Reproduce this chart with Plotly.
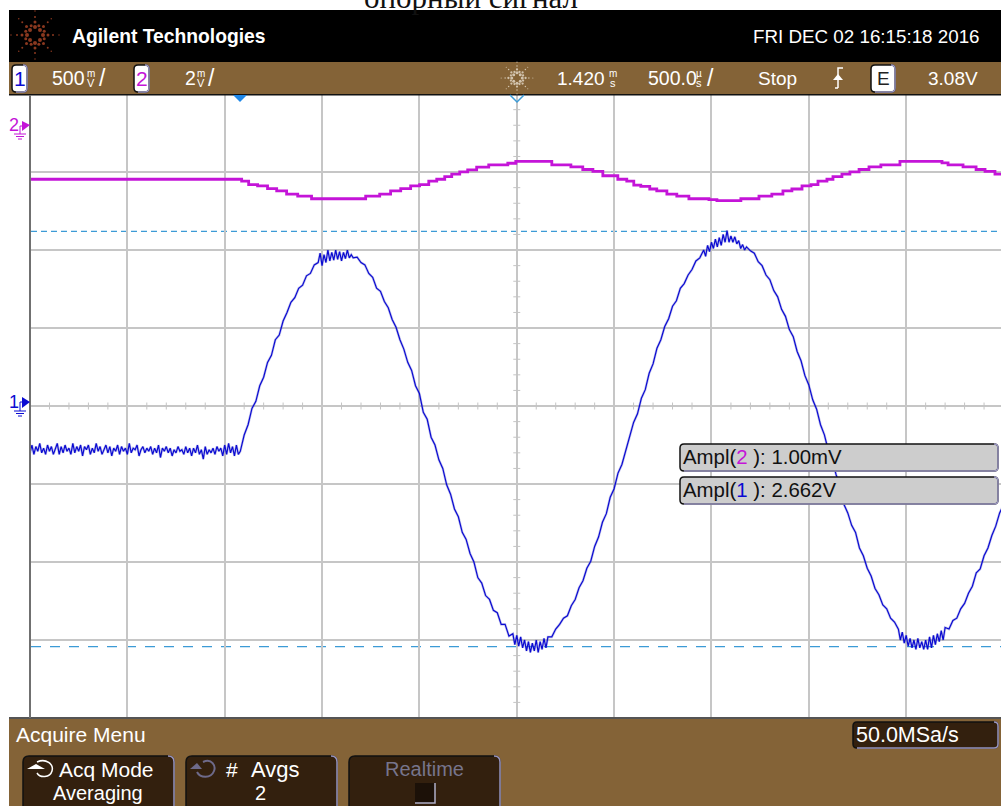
import math
import plotly.graph_objects as go

# time base, ms (1.420 ms centre, 500 us/div)
time_ms = [
    -1.08, -1.07, -1.06, -1.05, -1.04, -1.03, -1.02, -1.01, -1.00, -0.99,
    -0.98, -0.97, -0.96, -0.95, -0.94, -0.93, -0.92, -0.91, -0.90, -0.89,
    -0.88, -0.87, -0.86, -0.85, -0.84, -0.83, -0.82, -0.81, -0.80, -0.79,
    -0.78, -0.77, -0.76, -0.75, -0.74, -0.73, -0.72, -0.71, -0.70, -0.69,
    -0.68, -0.67, -0.66, -0.65, -0.64, -0.63, -0.62, -0.61, -0.60, -0.59,
    -0.58, -0.57, -0.56, -0.55, -0.54, -0.53, -0.52, -0.51, -0.50, -0.49,
    -0.48, -0.47, -0.46, -0.45, -0.44, -0.43, -0.42, -0.41, -0.40, -0.39,
    -0.38, -0.37, -0.36, -0.35, -0.34, -0.33, -0.32, -0.31, -0.30, -0.29,
    -0.28, -0.27, -0.26, -0.25, -0.24, -0.23, -0.22, -0.21, -0.20, -0.19,
    -0.18, -0.17, -0.16, -0.15, -0.14, -0.13, -0.12, -0.11, -0.10, -0.09,
    -0.08, -0.07, -0.06, -0.05, -0.04, -0.03, -0.02, -0.01, 0.00,
    0.02, 0.04, 0.06, 0.08, 0.10, 0.12, 0.14, 0.16, 0.18, 0.20,
    0.22, 0.24, 0.26, 0.28, 0.30, 0.32, 0.34, 0.36, 0.38, 0.40,
    0.41, 0.42, 0.43, 0.44, 0.45, 0.46, 0.47, 0.48, 0.49, 0.50,
    0.51, 0.52, 0.53, 0.54, 0.55, 0.56, 0.57, 0.58, 0.60, 0.62,
    0.64, 0.66, 0.68, 0.70, 0.72, 0.74, 0.76, 0.78, 0.80, 0.82,
    0.84, 0.86, 0.88, 0.90, 0.92, 0.94, 0.96, 0.98, 1.00, 1.02,
    1.04, 1.06, 1.08, 1.10, 1.12, 1.14, 1.16, 1.18, 1.20, 1.22,
    1.24, 1.26, 1.28, 1.30, 1.32, 1.34, 1.36, 1.38, 1.40, 1.41,
    1.42, 1.43, 1.44, 1.45, 1.46, 1.47, 1.48, 1.49, 1.50, 1.51,
    1.52, 1.53, 1.54, 1.55, 1.56, 1.57, 1.58, 1.60, 1.62, 1.64,
    1.66, 1.68, 1.70, 1.72, 1.74, 1.76, 1.78, 1.80, 1.82, 1.84,
    1.86, 1.88, 1.90, 1.92, 1.94, 1.96, 1.98, 2.00, 2.02, 2.04,
    2.06, 2.08, 2.10, 2.12, 2.14, 2.16, 2.18, 2.20, 2.22, 2.24,
    2.26, 2.28, 2.30, 2.32, 2.34, 2.36, 2.38, 2.39, 2.40, 2.41,
    2.42, 2.43, 2.44, 2.45, 2.46, 2.47, 2.48, 2.49, 2.50, 2.51,
    2.52, 2.53, 2.54, 2.55, 2.56, 2.57, 2.58, 2.59, 2.60, 2.62,
    2.64, 2.66, 2.68, 2.70, 2.72, 2.74, 2.76, 2.78, 2.80, 2.82,
    2.84, 2.86, 2.88, 2.90, 2.92, 2.94, 2.96, 2.98, 3.00, 3.02,
    3.04, 3.06, 3.08, 3.10, 3.12, 3.14, 3.16, 3.18, 3.20, 3.22,
    3.24, 3.26, 3.28, 3.30, 3.32, 3.34, 3.36, 3.38, 3.39, 3.40,
    3.41, 3.42, 3.43, 3.44, 3.45, 3.46, 3.47, 3.48, 3.49, 3.50,
    3.51, 3.52, 3.53, 3.54, 3.55, 3.56, 3.57, 3.58, 3.59, 3.60,
    3.61, 3.62, 3.64, 3.66, 3.68, 3.70, 3.72, 3.74, 3.76, 3.78,
    3.80, 3.82, 3.84, 3.86, 3.88, 3.90, 3.92,
]

# channel 1, volts
ch1_v = [
    -0.30, -0.25, -0.31, -0.26, -0.29, -0.24, -0.30, -0.27, -0.31, -0.25,
    -0.29, -0.26, -0.31, -0.27, -0.24, -0.31, -0.26, -0.30, -0.25, -0.29,
    -0.27, -0.31, -0.24, -0.30, -0.26, -0.29, -0.25, -0.32, -0.26, -0.28,
    -0.25, -0.31, -0.27, -0.30, -0.24, -0.29, -0.26, -0.31, -0.28, -0.25,
    -0.30, -0.26, -0.32, -0.27, -0.29, -0.25, -0.31, -0.26, -0.29, -0.27,
    -0.31, -0.24, -0.30, -0.27, -0.28, -0.25, -0.32, -0.28, -0.26, -0.30,
    -0.27, -0.29, -0.26, -0.31, -0.27, -0.30, -0.25, -0.33, -0.27, -0.29,
    -0.26, -0.30, -0.27, -0.32, -0.28, -0.30, -0.26, -0.29, -0.28, -0.31,
    -0.26, -0.30, -0.27, -0.32, -0.27, -0.30, -0.25, -0.31, -0.28, -0.34,
    -0.26, -0.31, -0.28, -0.30, -0.27, -0.31, -0.26, -0.29, -0.27, -0.32,
    -0.25, -0.31, -0.24, -0.30, -0.26, -0.32, -0.25, -0.31, -0.29,
    -0.186, -0.12, -0.015, 0.03, 0.13, 0.185, 0.28, 0.325, 0.425, 0.455,
    0.545, 0.60, 0.665, 0.695, 0.755, 0.775, 0.835, 0.85, 0.905, 0.92,
    0.98, 0.90, 0.97, 0.92, 1.00, 0.93, 0.985, 0.935, 1.00, 0.94,
    0.99, 0.93, 0.985, 0.945, 1.00, 0.95, 0.97, 0.95, 0.955, 0.92,
    0.905, 0.85, 0.825, 0.755, 0.735, 0.67, 0.63, 0.555, 0.505, 0.425,
    0.365, 0.28, 0.228, 0.13, 0.08, -0.04, -0.085, -0.20, -0.25, -0.345,
    -0.40, -0.505, -0.565, -0.66, -0.71, -0.81, -0.855, -0.945, -1.00, -1.10,
    -1.135, -1.215, -1.24, -1.31, -1.325, -1.40, -1.40, -1.475, -1.46, -1.53,
    -1.47, -1.54, -1.48, -1.55, -1.50, -1.57, -1.51, -1.58, -1.52, -1.57,
    -1.50, -1.58, -1.51, -1.56, -1.49, -1.55, -1.48, -1.48, -1.43, -1.40,
    -1.36, -1.345, -1.28, -1.24, -1.165, -1.12, -1.04, -0.995, -0.90, -0.84,
    -0.745, -0.69, -0.585, -0.53, -0.43, -0.375, -0.28, -0.20, -0.105, -0.05,
    0.05, 0.105, 0.21, 0.27, 0.37, 0.425, 0.51, 0.56, 0.64, 0.675,
    0.755, 0.785, 0.84, 0.875, 0.93, 0.95, 1.00, 0.96, 1.03, 0.99,
    1.05, 1.01, 1.07, 1.02, 1.08, 1.03, 1.10, 1.05, 1.125, 1.05,
    1.09, 1.05, 1.085, 1.04, 1.06, 1.01, 1.035, 1.00, 1.02, 0.995,
    0.98, 0.925, 0.90, 0.84, 0.81, 0.74, 0.70, 0.62, 0.575, 0.49,
    0.445, 0.35, 0.29, 0.195, 0.135, 0.04, -0.02, -0.12, -0.185, -0.285,
    -0.345, -0.44, -0.51, -0.63, -0.685, -0.765, -0.81, -0.91, -0.96, -1.04,
    -1.09, -1.17, -1.21, -1.275, -1.30, -1.36, -1.385, -1.43, -1.50, -1.45,
    -1.52, -1.47, -1.54, -1.49, -1.55, -1.50, -1.56, -1.49, -1.55, -1.51,
    -1.56, -1.50, -1.56, -1.48, -1.55, -1.47, -1.53, -1.46, -1.51, -1.44,
    -1.50, -1.42, -1.43, -1.375, -1.36, -1.30, -1.265, -1.20, -1.155, -1.07,
    -1.045, -0.96, -0.91, -0.83, -0.77, -0.685, -0.635,
]
assert len(time_ms) == len(ch1_v)

# channel 2, mV, stepped (8-bit levels at 2 mV/div)
ch2_t = [
    -1.08, 0.007, 0.043, 0.089, 0.14, 0.187, 0.238, 0.295, 0.366, 0.644,
    0.716, 0.772, 0.824, 0.875, 0.921, 0.968, 1.009, 1.05, 1.086, 1.127,
    1.168, 1.214, 1.276, 1.374, 1.415, 1.60, 1.698, 1.759, 1.811, 1.862,
    1.939, 1.985, 2.021, 2.057, 2.103, 2.139, 2.191, 2.242, 2.304, 2.407,
    2.448, 2.571, 2.664, 2.73, 2.787, 2.833, 2.885, 2.931, 2.967, 3.013,
    3.044, 3.09, 3.131, 3.178, 3.229, 3.29, 3.388, 3.604, 3.635, 3.712,
    3.779, 3.825, 3.876, 3.92,
]
ch2_mv = [
    -1.39, -1.44, -1.53, -1.56, -1.63, -1.69, -1.77, -1.82, -1.89, -1.82,
    -1.77, -1.69, -1.63, -1.56, -1.53, -1.44, -1.39, -1.32, -1.26, -1.20,
    -1.15, -1.08, -1.02, -0.98, -0.93, -1.02, -1.07, -1.14, -1.19, -1.30,
    -1.39, -1.44, -1.54, -1.57, -1.64, -1.69, -1.77, -1.82, -1.89, -1.91,
    -1.94, -1.89, -1.82, -1.77, -1.69, -1.64, -1.56, -1.53, -1.44, -1.39,
    -1.32, -1.26, -1.20, -1.14, -1.07, -1.02, -0.93, -0.97, -1.02, -1.07,
    -1.14, -1.19, -1.26, -1.26,
]

cursor_levels_v = [1.12, -1.542]
cursor_dashes = ["6px,4px", "10px,9px"]

BROWN = "#846337"
DARK = "#33200e"
EDGE = "#9a96c0"
BLUE = "#0a0ad2"
MAGENTA = "#c414d8"
CURSOR = "#3c9bd6"
GRID = "#c6c6c6"
SANS = "Liberation Sans"

W, H = 1001, 806
shapes = []
notes = []


def rect(x0, y0, x1, y1, fill, layer="below"):
    shapes.append(dict(type="rect", xref="x3", yref="y3", x0=x0, y0=y0, x1=x1, y1=y1,
                       fillcolor=fill, line_width=0, layer=layer))


def path(d, fill=None, color=None, width=1):
    shapes.append(dict(type="path", xref="x3", yref="y3", path=d, layer="above",
                       fillcolor=fill if fill else "rgba(0,0,0,0)",
                       line=dict(color=color if color else "rgba(0,0,0,0)", width=width)))


def box(x0, y0, x1, y1, fill, r=4):
    # rounded box, black on top/left and lavender on bottom/right
    d = (f"M{x0+r},{y0} L{x1-r},{y0} Q{x1},{y0} {x1},{y0+r} L{x1},{y1-r} Q{x1},{y1} {x1-r},{y1} "
         f"L{x0+r},{y1} Q{x0},{y1} {x0},{y1-r} L{x0},{y0+r} Q{x0},{y0} {x0+r},{y0} Z")
    path(d, fill=fill, color="#111111", width=1.5)
    path(f"M{x1-r},{y0} Q{x1},{y0} {x1},{y0+r} L{x1},{y1-r} Q{x1},{y1} {x1-r},{y1} L{x0+r},{y1}",
         color=EDGE, width=1.5)


def txt(x, y, s, size=19, color="white", anchor="left", font=SANS):
    notes.append(dict(xref="x3", yref="y3", x=x, y=y, text=s, showarrow=False, xanchor=anchor,
                      yanchor="middle", borderpad=0, font=dict(family=font, size=size, color=color)))


def star(cx, cy, scale=1.0):
    # radial dots of the logo
    xs, ys, sizes = [], [], []
    for k in range(16):
        a = k * math.pi / 8
        if k % 4 == 0:
            rr, ss = [8, 13, 18, 24], [4, 3, 2, 1.5]
        elif k % 2 == 0:
            rr, ss = [7, 12, 18, 23], [4, 3, 2, 1.5]
        else:
            rr, ss = [10], [3]
        for r, s in zip(rr, ss):
            xs.append(cx + scale * r * math.cos(a))
            ys.append(cy + scale * r * math.sin(a))
            sizes.append(s * (0.75 if scale < 1 else 1))
    return xs, ys, sizes


# window furniture
rect(9, 10, W, 62, "#000000")
rect(9, 62, W, 94, BROWN)
rect(9, 94, W, 95.5, "#111111")
rect(9, 718, W, H, BROWN)
rect(9, 717, W, 719, "#555555")
rect(29, 95, 31, 718, "#707070")

# clipped line of the document above the screenshot, its top runs off the page
notes.append(dict(xref="x3", yref="y3", x=471, y=16, text="опорный сигнал", showarrow=False,
                  xanchor="center", yanchor="bottom", borderpad=0,
                  font=dict(family="Liberation Serif", size=31, color="#111111")))

txt(71, 36, "<b>Agilent Technologies</b>", size=19.3)
txt(981, 36, "FRI DEC 02 16:15:18 2016", size=18.8, anchor="right")

# top status row
box(12, 65, 27, 92, "white")
txt(19.5, 78, "1", size=21, color=BLUE, anchor="center")
txt(51, 78, "500", size=19.5)
txt(90.5, 73, "m", size=10, anchor="center")
txt(90.5, 83, "V", size=11, anchor="center")
txt(98, 78, "/", size=23)
box(134, 65, 149, 92, "white")
txt(141.5, 78, "2", size=21, color=MAGENTA, anchor="center")
txt(184, 78, "2", size=19.5)
txt(201, 73, "m", size=10, anchor="center")
txt(201, 83, "V", size=11, anchor="center")
txt(207, 78, "/", size=23)
txt(556, 78, "1.420", size=19)
txt(613, 73, "m", size=10, anchor="center")
txt(613, 83, "s", size=11, anchor="center")
txt(647, 78, "500.0", size=19.5)
txt(699, 73, "µ", size=10, anchor="center")
txt(699, 83, "s", size=11, anchor="center")
txt(706, 78, "/", size=23)
txt(757, 78, "Stop", size=19)
path("M843,68 L838,68 L838,88 M838,88 L835,88", color="white", width=1.5)
path("M833,80 L838,74 L843,80 Z", fill="white")
box(871, 65, 895, 92, "white")
txt(883, 78, "E", size=19, color="#222222", anchor="center")
txt(979, 78, "3.08V", size=19, anchor="right")

# trigger position markers
path("M233,95 L247,95 L240,102 Z", fill="#1e87e8")
path("M510,95 L517,102 L524,95", color="#3c9bd6", width=1.5)

# ground markers
txt(14, 125, "2", size=18, color=MAGENTA, anchor="center")
path("M22,121 L30,125 L22,131 Z", fill=MAGENTA)
path("M22,126 L20,126 L20,134 M14,134 L26,134 M16,136.5 L24,136.5 M18,139 L22,139",
     color=MAGENTA, width=1)
txt(14, 402, "1", size=18, color=BLUE, anchor="center")
path("M22,397 L30,402 L22,408 Z", fill=BLUE)
path("M22,402 L20,402 L20,411 M14,411 L26,411 M16,413.5 L24,413.5 M18,416 L22,416",
     color=BLUE, width=1)

# measurements
box(680, 444, 998, 471, "#cdcdcd")
box(680, 477, 998, 504, "#cdcdcd")
txt(682, 457, f'Ampl(<span style="color:{MAGENTA}">2</span> ): 1.00mV', size=20.4, color="#111111")
txt(682, 490, f'Ampl(<span style="color:{BLUE}">1</span> ): 2.662V', size=20.4, color="#111111")

# bottom menu
txt(15, 734, "Acquire Menu", size=21)
box(853, 722, 998, 748, DARK)
txt(855, 735, "50.0MSa/s", size=21.5)
for x0, x1 in [(23, 174), (186, 337), (349, 500)]:
    box(x0, 756, x1, 812, DARK, r=6)
txt(58, 769, "Acq Mode", size=21)
txt(98, 793, "Averaging", size=20, anchor="center")
txt(225, 769, "#", size=21)
txt(250, 769, "Avgs", size=22)
txt(260, 793, "2", size=20, anchor="center")
txt(424, 769, "Realtime", size=20, color="#77758c", anchor="center")
path("M415,783 L435,783 L435,803 L415,803 Z", fill="#1c1108")
path("M435,783 L435,803 L415,803", color="#b0aec8", width=1.5)
path("M37,762 C46,758 54,764 52,771 C50,778 40,778 37,773", color="white", width=1.5)
path("M27,769 L36,764 L45,769 Z", fill="white")
path("M203,762 C212,758 216,766 214,771 C211,779 200,778 197,772", color="#6e6a8a", width=2)
path("M190,769 L197,763 L202,769 Z", fill="#6e6a8a")

fig = go.Figure()

# small divisions on the centre lines
fig.add_trace(go.Scatter(
    x=[1.42 + k * 0.1 for k in range(-25, 26) if k % 5],
    y=[0] * 40,
    mode="markers", xaxis="x", yaxis="y", hoverinfo="skip", showlegend=False,
    marker=dict(symbol="line-ns", size=5, line=dict(width=1, color="#c4c4c4")),
))
fig.add_trace(go.Scatter(
    x=[1.42] * 32,
    y=[k * 0.1 for k in range(-20, 20) if k % 5],
    mode="markers", xaxis="x", yaxis="y", hoverinfo="skip", showlegend=False,
    marker=dict(symbol="line-ew", size=5, line=dict(width=1, color="#c4c4c4")),
))

# channel 2
fig.add_trace(go.Scatter(
    x=ch2_t, y=ch2_mv, mode="lines", xaxis="x", yaxis="y2", name="2", showlegend=False,
    line=dict(color=MAGENTA, width=2.8, shape="hv"),
))

# channel 1, with the faint halo the screenshot has round the trace
fig.add_trace(go.Scatter(
    x=time_ms, y=ch1_v, mode="lines", xaxis="x", yaxis="y", showlegend=False, hoverinfo="skip",
    line=dict(color="rgba(90,90,200,0.35)", width=2.5),
))
fig.add_trace(go.Scatter(
    x=time_ms, y=ch1_v, mode="lines", xaxis="x", yaxis="y", name="1", showlegend=False,
    line=dict(color=BLUE, width=1.2),
))

# logos
for cx, cy, scale, colour in [(35, 35, 1.0, "#c4502c"), (517, 78, 0.66, "#f4ece0")]:
    xs, ys, sizes = star(cx, cy, scale)
    fig.add_trace(go.Scatter(
        x=xs, y=ys, mode="markers", xaxis="x3", yaxis="y3", hoverinfo="skip", showlegend=False,
        marker=dict(color=colour, size=sizes, line_width=0),
    ))

for level, dash in zip(cursor_levels_v, cursor_dashes):
    shapes.append(dict(type="line", xref="x3", yref="y", x0=31, x1=W, y0=level, y1=level,
                       layer="below", line=dict(color=CURSOR, width=1.2, dash=dash)))

fig.update_layout(
    width=W, height=H,
    margin=dict(l=0, r=0, t=0, b=0),
    paper_bgcolor="white", plot_bgcolor="rgba(0,0,0,0)",
    showlegend=False,
    shapes=shapes, annotations=notes,
    xaxis=dict(domain=[30 / W, 1], range=[-1.08, 3.907], tick0=1.42, dtick=0.5,
               showgrid=True, gridcolor=GRID, gridwidth=1.5, zeroline=False,
               showticklabels=False, ticks="", anchor="y"),
    yaxis=dict(domain=[88 / H, 711 / H], range=[-2, 1.994], tick0=0, dtick=0.5,
               showgrid=True, gridcolor=GRID, gridwidth=1.5, zeroline=False,
               showticklabels=False, ticks="", anchor="x"),
    yaxis2=dict(domain=[88 / H, 711 / H], range=[-15.2, 0.77], overlaying="y", visible=False),
    xaxis3=dict(domain=[0, 1], range=[0, W], visible=False, anchor="y3"),
    yaxis3=dict(domain=[0, 1], range=[H, 0], visible=False, anchor="x3"),
)

fig.write_html("out.html", config={"displayModeBar": False},
               post_script="document.body.style.margin='0';document.body.style.overflow='hidden';")
